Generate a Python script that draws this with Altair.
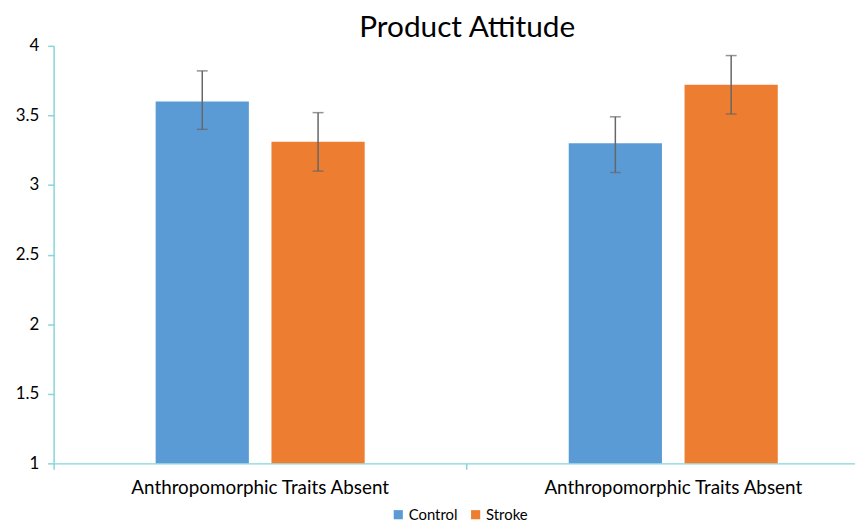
import altair as alt
import pandas as pd

group_ids = [0, 0, 1, 1]
group_labels = ["Anthropomorphic Traits Absent", "Anthropomorphic Traits Absent"]
series = ["Control", "Stroke", "Control", "Stroke"]
means = [3.60, 3.31, 3.30, 3.72]
err_low = [3.40, 3.10, 3.09, 3.51]
err_high = [3.82, 3.52, 3.49, 3.93]

df = pd.DataFrame({
    "group": group_ids,
    "series": series,
    "mean": means,
    "lo": err_low,
    "hi": err_high,
})

axis_color = "#84D6DA"
font = "Lato"

label_expr = "datum.value == 0 ? '%s' : '%s'" % (group_labels[0], group_labels[1])

x = alt.X("group:N", title=None,
          scale=alt.Scale(paddingInner=0, paddingOuter=0, range=[0, 833]),
          axis=alt.Axis(labelAngle=0, labelExpr=label_expr, domainColor=axis_color,
                        tickColor=axis_color, tickSize=6, bandPosition=0,
                        labelFontSize=19, labelFont=font, labelColor="#000", labelLimit=0,
                        labelPadding=9, domainWidth=1.5, tickWidth=1.5))
xo = alt.XOffset("series:N", scale=alt.Scale(paddingInner=0.195, paddingOuter=0.881))

y_scale = alt.Scale(domain=[1, 4], zero=False, nice=False)

bars = alt.Chart(df).mark_bar().encode(
    x=x,
    xOffset=xo,
    y=alt.Y("mean:Q", scale=y_scale, title=None,
            axis=alt.Axis(values=[1, 1.5, 2, 2.5, 3, 3.5, 4], format=".1~f", grid=False,
                          domainColor=axis_color, tickColor=axis_color, tickSize=6,
                          labelFontSize=17, labelFont=font, labelColor="#000",
                          labelPadding=9, domainWidth=1.5, tickWidth=1.5)),
    y2=alt.datum(1),
    color=alt.Color("series:N",
                    scale=alt.Scale(domain=["Control", "Stroke"], range=["#5B9BD5", "#ED7D31"]),
                    legend=alt.Legend(title=None, orient="none", legendX=340, legendY=465,
                                      direction="horizontal",
                                      symbolType="square", symbolSize=85, symbolStrokeWidth=0,
                                      labelFontSize=15, labelFont=font, labelColor="#000",
                                      columnPadding=10, labelOffset=3)),
)

rules = alt.Chart(df).mark_rule(color="#666666", strokeWidth=1.5).encode(
    x=x, xOffset=xo, y=alt.Y("lo:Q", scale=y_scale), y2="hi:Q"
)
cap_lo = alt.Chart(df).mark_tick(color="#666666", thickness=1.5, size=11).encode(
    x=x, xOffset=xo, y=alt.Y("lo:Q", scale=y_scale)
)
cap_hi = alt.Chart(df).mark_tick(color="#666666", thickness=1.5, size=11).encode(
    x=x, xOffset=xo, y=alt.Y("hi:Q", scale=y_scale)
)

chart = alt.layer(bars, rules, cap_lo, cap_hi).properties(
    width=808, height=421,
    title=alt.TitleParams("Product Attitude", fontSize=30, font=font, fontWeight="normal",
                          color="#000", anchor="middle", frame="group", offset=-6, dx=13),
    autosize=alt.AutoSizeParams(type="none"),
    padding={"left": 46, "top": 36, "right": 0, "bottom": 60},
    background="white",
).configure_view(stroke=None)

chart.save("out.html", embed_options={"renderer": "svg", "actions": False})
